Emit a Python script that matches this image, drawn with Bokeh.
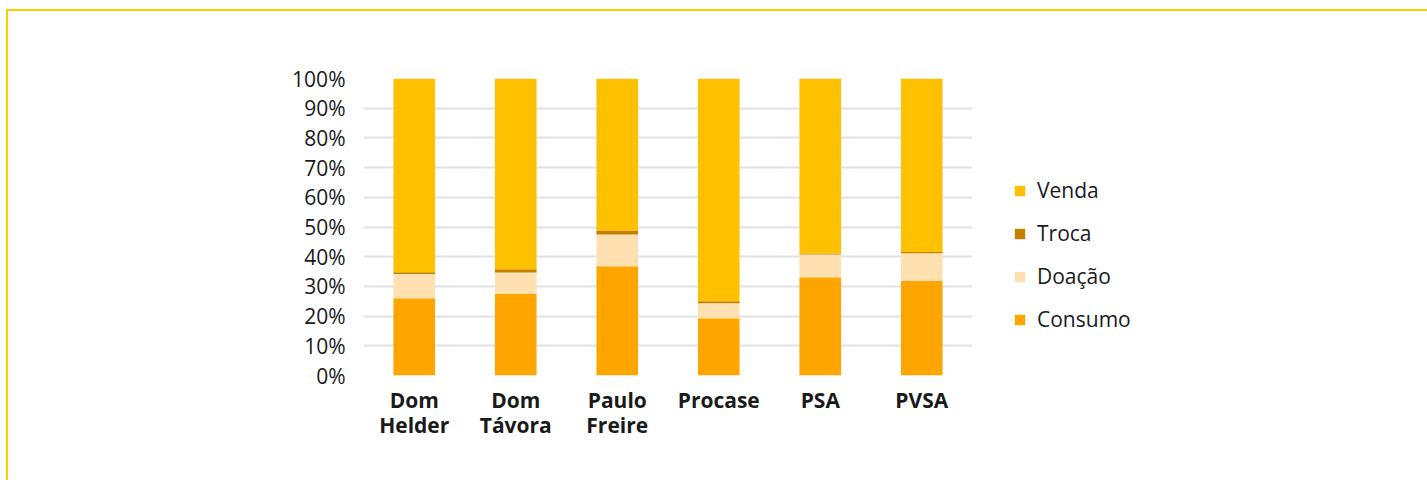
from bokeh.plotting import figure
from bokeh.models import Range1d, NumeralTickFormatter, Legend, LegendItem, ColumnDataSource, FactorRange
from bokeh.embed import file_html
from bokeh.resources import INLINE

categories = ["Dom\nHelder", "Dom\nTávora", "Paulo\nFreire", "Procase", "PSA", "PVSA"]
consumo = [26.0, 27.4, 36.8, 19.3, 33.1, 31.8]
doacao = [8.2, 7.3, 10.7, 5.0, 7.6, 9.4]
troca = [0.6, 1.1, 1.3, 0.7, 0.4, 0.4]
venda = [65.2, 64.2, 51.2, 75.0, 58.9, 58.4]
series = ["Consumo", "Doação", "Troca", "Venda"]
colors = ["#FFA500", "#FFE0B0", "#C47F00", "#FFC000"]

keys = ["consumo", "doacao", "troca", "venda"]
src = ColumnDataSource(dict(
    cat=categories,
    consumo=[v / 100 for v in consumo],
    doacao=[v / 100 for v in doacao],
    troca=[v / 100 for v in troca],
    venda=[v / 100 for v in venda],
))

FONT = "Open Sans"
p = figure(x_range=FactorRange(*categories, range_padding=0), y_range=Range1d(0, 1),
           frame_width=609, frame_height=297, output_backend="svg", toolbar_location=None,
           min_border_left=355, min_border_right=453, min_border_top=67, min_border_bottom=105)
p.margin = (9, 0, 0, 6)
p.styles = {"border-top": "2px solid #FFCC00", "border-left": "2px solid #FFCC00"}

rs = p.vbar_stack(keys, x="cat", width=0.41, source=src, color=colors, line_color=None)

p.outline_line_color = None
p.xgrid.grid_line_color = None
p.ygrid.grid_line_color = "#E1E1E8"
p.ygrid.grid_line_width = 2
p.yaxis.ticker = [i / 10 for i in range(11)]
p.yaxis.formatter = NumeralTickFormatter(format="0%")
for ax in (p.xaxis, p.yaxis):
    ax.axis_line_color = None
    ax.major_tick_line_color = None
    ax.minor_tick_line_color = None
    ax.major_label_text_font = FONT
    ax.major_label_text_font_size = "21px"
    ax.major_label_text_color = "#1a1a1a"
p.xaxis.major_label_text_font_style = "bold"
p.xaxis.major_label_text_line_height = 0.9
p.xaxis.major_label_standoff = 4
p.yaxis.major_label_standoff = 12

items = [LegendItem(label=series[i], renderers=[rs[i]]) for i in (3, 2, 1, 0)]
legend = Legend(items=items, location=(41, 42), border_line_color=None,
                label_text_font=FONT, label_text_font_size="21px", label_text_color="#1a1a1a",
                glyph_width=13, glyph_height=13, label_standoff=11, spacing=15, label_height=21,
                margin=0, padding=0, background_fill_alpha=0)
p.add_layout(legend, "right")

open("out.html", "w").write(file_html(p, INLINE))
